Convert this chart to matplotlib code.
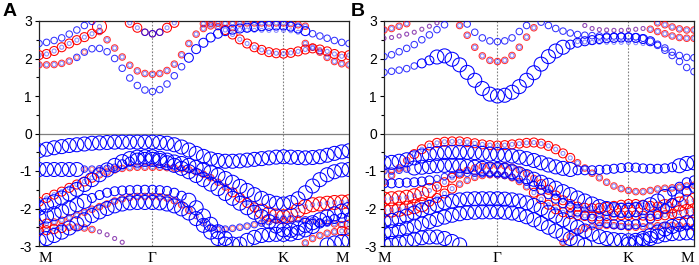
import numpy as np
import matplotlib
matplotlib.use("Agg")
import matplotlib.pyplot as plt

nan = np.nan

# k-path M - Gamma - K - M (segment lengths and points per segment)
seg_len = [1.0, 1.1547, 0.5774]
seg_pts = [15, 18, 9]
k_labels = ["M", "\u0393", "K", "M"]
y_ticks = [-3, -2, -1, 0, 1, 2, 3]

# ---------------- panel A: energies (eV) at the 43 k-points, weight levels 0-4 ----------------
a_c1 = [1.83, 1.83, 1.84, 1.87, 1.93, 2.03, 2.17, 2.26, 2.27, 2.18, 2.00, 1.74, 1.48, 1.28, 1.16, 1.12,
        1.17, 1.32, 1.54, 1.78, 2.02, 2.25, 2.42, 2.56, 2.66, 2.73, 2.77, 2.80, 2.82, 2.84, 2.86, 2.87, 2.88, 2.88,
        2.85, 2.80, 2.73, 2.66, 2.60, 2.54, 2.48, 2.43, 2.40]
a_c1_red = "2222211000000000 000000000000000000 000000000"
a_c1_blue = "1111122222222222 222233333333333333 333222222"

a_c2 = [2.09, 2.12, 2.20, 2.30, 2.40, 2.49, 2.57, 2.66, 2.85, nan, nan, nan, nan, nan, nan, nan,
        nan, nan, nan, nan, nan, nan, nan, nan, nan, nan, nan, nan, nan, nan, nan, nan, nan, nan,
        nan, nan, nan, nan, nan, nan, nan, nan, nan]
a_c2_red = "3333333340000000 000000000000000000 000000000"
a_c2_blue = "1111111110000000 000000000000000000 000000000"

a_c3 = [2.40, 2.43, 2.48, 2.55, 2.65, 2.76, 2.88, 2.99, nan, nan, nan, nan, nan, nan, nan, nan,
        nan, nan, nan, nan, nan, nan, nan, nan, nan, nan, nan, nan, nan, nan, nan, nan, nan, nan,
        nan, nan, nan, nan, nan, nan, nan, nan, nan]
a_c3_red = "0000000000000000 000000000000000000 000000000"
a_c3_blue = "2222222200000000 000000000000000000 000000000"

a_c4 = [nan, nan, nan, nan, nan, nan, nan, nan, nan, nan, nan, nan, 2.95, 2.82, 2.70, 2.66,
        2.70, 2.82, 2.95, nan, nan, nan, nan, nan, nan, nan, nan, nan, nan, nan, nan, nan, nan, nan,
        nan, nan, nan, nan, nan, nan, nan, nan, nan]
a_c4_red = "0000000000003322 233000000000000000 000000000"
a_c4_blue = "0000000000001122 211000000000000000 000000000"

a_c5 = [nan, nan, nan, nan, nan, nan, nan, nan, nan, nan, nan, nan, nan, nan, nan, nan,
        nan, nan, nan, nan, nan, nan, nan, nan, nan, nan, nan, nan, nan, nan, nan, nan, nan, nan,
        nan, nan, 2.40, 2.30, 2.17, 2.03, 1.92, 1.86, 1.83]
a_c5_red = "0000000000000000 000000000000000000 002222222"
a_c5_blue = "0000000000000000 000000000000000000 001111111"

a_c6 = [nan, nan, nan, nan, nan, nan, nan, nan, nan, nan, nan, nan, nan, nan, nan, nan,
        nan, nan, nan, nan, nan, nan, 2.93, 2.94, 2.94, 2.94, 2.94, 2.94, 2.95, 2.95, 2.95, 2.95, 2.95, 2.95,
        2.93, 2.90, 2.86, nan, nan, nan, nan, nan, nan]
a_c6_red = "0000000000000000 000000222222222222 222000000"
a_c6_blue = "0000000000000000 000000111111111111 111000000"

a_c7 = [nan, nan, nan, nan, nan, nan, nan, nan, nan, nan, nan, nan, nan, nan, nan, nan,
        nan, nan, nan, nan, nan, nan, nan, nan, nan, nan, 2.78, 2.77, 2.76, 2.75, 2.75, 2.75, 2.75, 2.75,
        2.74, 2.70, nan, nan, nan, nan, nan, nan, nan]
a_c7_red = "0000000000000000 000000000000000000 000000000"
a_c7_blue = "0000000000000000 000000000011111111 110000000"

a_c9 = [nan, nan, nan, nan, nan, nan, nan, nan, 2.72, 2.50, 2.28, 2.04, 1.82, 1.67, 1.60, 1.58,
        1.60, 1.68, 1.85, 2.10, 2.40, 2.65, 2.80, 2.87, 2.85, 2.76, 2.64, 2.51, 2.40, 2.30, 2.23, 2.17, 2.14, 2.13,
        2.15, 2.19, 2.24, 2.27, 2.24, 2.19, 2.12, 2.06, 2.09]
a_c9_red = "0000000022222222 222222222333333333 333333333"
a_c9_blue = "0000000011111111 111111111111111111 111111111"

a_v1 = [-0.46, -0.42, -0.38, -0.35, -0.32, -0.30, -0.28, -0.26, -0.25, -0.24, -0.23, -0.23, -0.23, -0.23, -0.23, -0.23,
        -0.24, -0.26, -0.30, -0.36, -0.44, -0.53, -0.61, -0.68, -0.72, -0.74, -0.74, -0.73, -0.71, -0.69, -0.67, -0.65, -0.63, -0.62,
        -0.63, -0.64, -0.65, -0.64, -0.62, -0.58, -0.53, -0.49, -0.46]
a_v1_red = "0000000000000000 000000000000000000 000000000"
a_v1_blue = "4444444444444444 444444444444444444 444444444"

a_v2 = [-0.96, -0.96, -0.96, -0.96, -0.96, -0.96, -0.95, -0.95, -0.94, -0.93, -0.90, -0.82, -0.75, -0.71, -0.69, -0.69,
        -0.72, -0.78, -0.85, -0.93, -1.02, -1.12, -1.23, -1.35, -1.47, -1.60, -1.73, -1.86, -1.98, -2.10, -2.22, -2.35, -2.47, -2.57,
        -2.58, -2.52, -2.45, -2.38, -2.30, -2.22, -2.14, -2.07, -2.02]
a_v2_red = "0000001111100000 000000000000000000 000000000"
a_v2_blue = "4444442222233444 444444444444444444 444444444"

a_vd1 = [-1.99, -1.91, -1.82, -1.72, -1.61, -1.49, -1.36, -1.23, -1.10, -0.97, -0.85, -0.75, -0.67, -0.63, -0.62, -0.62,
         -0.66, -0.71, -0.76, -0.80, -0.85, -0.90, -0.96, -1.03, -1.11, -1.20, -1.30, -1.41, -1.52, -1.63, -1.73, -1.81, -1.86, -1.88,
         -1.84, -1.74, -1.58, -1.40, -1.23, -1.10, -1.02, -0.97, -0.96]
a_vd1_red = "0000000000000000 000000000000000000 000000000"
a_vd1_blue = "4444444444444444 444444444444444444 444444444"

a_vr = [-1.82, -1.72, -1.63, -1.55, -1.45, -1.36, -1.28, -1.18, -1.10, -1.03, -0.97, -0.93, -0.91, -0.90, -0.90, -0.90,
        -0.90, -0.91, -0.92, -0.94, -0.97, -1.02, -1.09, -1.18, -1.30, -1.43, -1.57, -1.71, -1.85, -1.97, -2.07, -2.15, -2.20, -2.22,
        -2.17, -2.05, -1.95, -1.90, -1.88, -1.86, -1.84, -1.83, -1.82]
a_vr_red = "3333333322222222 222222222233334444 444444444"
a_vr_blue = "1111111111111111 111111111111111111 111111111"

a_v3 = [-2.24, -2.20, -2.14, -2.07, -1.99, -1.90, -1.81, -1.72, -1.64, -1.58, -1.54, -1.52, -1.51, -1.50, -1.50, -1.50,
        -1.51, -1.53, -1.58, -1.66, -1.78, -1.98, -2.20, -2.42, -2.62, -2.80, -2.95, nan, nan, nan, nan, nan, nan, nan,
        nan, nan, nan, nan, nan, nan, nan, nan, nan]
a_v3_red = "0000000000000000 000000000000000000 000000000"
a_v3_blue = "4444444333333333 333344444440000000 000000000"

a_v7 = [nan, nan, nan, nan, nan, nan, nan, nan, nan, nan, nan, nan, nan, nan, nan, nan,
        nan, nan, nan, nan, nan, nan, nan, nan, nan, nan, nan, -2.95, -2.85, -2.77, -2.72, -2.70, -2.69, -2.69,
        -2.68, -2.64, -2.57, -2.48, -2.40, -2.33, -2.28, -2.25, -2.24]
a_v7_red = "0000000000000000 000000000000000000 000000000"
a_v7_blue = "0000000000000000 000000000004444444 444433333"

a_v5 = [-2.86, -2.80, -2.72, -2.63, -2.52, -2.41, -2.30, -2.19, -2.09, -2.00, -1.93, -1.88, -1.85, -1.84, -1.84, -1.84,
        -1.85, -1.88, -1.93, -2.01, -2.12, -2.27, -2.45, -2.63, -2.80, -2.95, nan, nan, nan, nan, nan, nan, nan, nan,
        nan, nan, nan, nan, nan, -2.97, -2.92, -2.88, -2.86]
a_v5_red = "0000000000000000 000000000000000000 000000000"
a_v5_blue = "4444444444444444 444444444400000000 000004444"

a_v4 = [-2.43, -2.40, -2.36, -2.31, -2.25, -2.18, -2.10, -2.02, -1.95, -1.88, -1.80, -1.74, -1.70, -1.68, -1.68, -1.68,
        -1.69, -1.72, -1.79, -1.90, -2.05, -2.22, -2.38, -2.50, -2.55, -2.55, -2.53, -2.50, -2.47, -2.43, -2.39, -2.35, -2.31, -2.29,
        -2.28, -2.28, -2.30, -2.33, -2.36, -2.39, -2.41, -2.43, -2.43]
a_v4_red = "3322222222222222 222221111111111111 111111223"
a_v4_blue = "1111111111111111 111111222222222222 222222111"

a_v6 = [-2.60, -2.58, -2.55, -2.52, -2.50, -2.50, -2.52, -2.56, -2.62, -2.70, -2.80, -2.90, -2.98, nan, nan, nan,
        nan, nan, nan, nan, nan, nan, nan, nan, nan, nan, nan, nan, nan, nan, nan, nan, nan, nan,
        nan, nan, -2.92, -2.80, -2.72, -2.66, -2.62, -2.60, -2.60]
a_v6_red = "3333222211110000 000000000000000000 002222233"
a_v6_blue = "1111111111110000 000000000000000000 001111111"

# ---------------- panel B ----------------
b_c1 = [1.63, 1.66, 1.69, 1.73, 1.80, 1.87, 1.95, 2.04, 2.07, 1.98, 1.83, 1.63, 1.42, 1.20, 1.05, 1.00,
        1.02, 1.10, 1.25, 1.42, 1.62, 1.85, 2.05, 2.20, 2.30, 2.37, 2.42, 2.46, 2.49, 2.52, 2.54, 2.55, 2.56, 2.56,
        2.55, 2.52, 2.46, 2.38, 2.28, 2.17, 2.08, 2.03, 2.02]
b_c1_red = "0000000000000000 000000000000000000 000000000"
b_c1_blue = "2222233444444444 444444444333333333 333222222"

b_c2 = [2.05, 2.10, 2.18, 2.27, 2.37, 2.50, 2.63, 2.77, 2.90, nan, nan, 2.92, 2.70, 2.55, 2.47, 2.45,
        2.47, 2.55, 2.72, 2.88, nan, nan, nan, nan, nan, nan, nan, nan, nan, nan, nan, nan, nan, nan,
        nan, nan, nan, nan, nan, nan, nan, nan, nan]
b_c2_red = "0000000000000000 000000000000000000 000000000"
b_c2_blue = "2222222220022222 222200000000000000 000000000"

b_c5 = [nan, nan, nan, nan, nan, nan, nan, nan, nan, nan, nan, nan, nan, nan, nan, nan,
        nan, nan, nan, nan, nan, 2.97, 2.88, 2.80, 2.73, 2.68, 2.64, 2.62, 2.61, 2.60, 2.60, 2.60, 2.60, 2.60,
        2.58, 2.54, 2.46, 2.35, 2.22, 2.08, 1.92, 1.76, 1.65]
b_c5_red = "0000000000000000 000000000000000000 000000000"
b_c5_blue = "0000000000000000 000002222222222222 222222222"

b_c3 = [nan, nan, nan, nan, nan, nan, nan, nan, nan, nan, nan, nan, nan, nan, nan, nan,
        nan, nan, nan, nan, nan, nan, nan, nan, nan, nan, 2.45, 2.44, 2.43, 2.43, 2.43, 2.43, 2.43, 2.43,
        2.42, 2.40, nan, nan, nan, nan, nan, nan, nan]
b_c3_red = "0000000000000000 000000000000000000 000000000"
b_c3_blue = "0000000000000000 000000000011111111 110000000"

b_r1 = [nan, nan, nan, nan, nan, nan, nan, nan, nan, nan, 2.88, 2.62, 2.30, 2.07, 1.95, 1.92,
        1.95, 2.08, 2.30, 2.57, 2.82, nan, nan, nan, nan, nan, nan, nan, nan, nan, nan, nan, nan, nan,
        nan, nan, nan, nan, nan, nan, nan, nan, nan]
b_r1_red = "0000000000222222 222220000000000000 000000000"
b_r1_blue = "0000000000111111 111110000000000000 000000000"

b_r2 = [2.76, 2.80, 2.86, 2.93, nan, nan, nan, nan, nan, nan, nan, nan, nan, nan, nan, nan,
        nan, nan, nan, nan, nan, nan, nan, nan, nan, nan, nan, nan, nan, nan, nan, nan, nan, nan,
        nan, nan, nan, 2.95, 2.90, 2.84, 2.79, 2.76, 2.76]
b_r2_red = "2222000000000000 000000000000000000 000222222"
b_r2_blue = "1111000000000000 000000000000000000 000111111"

b_r3 = [2.54, 2.56, 2.60, 2.65, 2.70, 2.78, 2.86, 2.95, nan, nan, nan, nan, nan, nan, nan, nan,
        nan, nan, nan, nan, nan, nan, nan, nan, nan, nan, nan, 2.88, 2.80, 2.77, 2.76, 2.75, 2.75, 2.76,
        2.78, 2.80, 2.78, 2.72, 2.66, 2.60, 2.56, 2.54, 2.54]
b_r3_red = "1111111100000000 000000000001111111 112222222"
b_r3_blue = "1111111100000000 000000000001111111 111111111"

b_vr1 = [-1.30, -1.12, -0.92, -0.72, -0.55, -0.42, -0.32, -0.25, -0.22, -0.21, -0.21, -0.23, -0.26, -0.29, -0.31, -0.32,
         -0.31, -0.29, -0.27, -0.25, -0.24, -0.27, -0.33, -0.42, -0.53, -0.65, -0.78, -0.92, -1.06, -1.18, -1.30, -1.40, -1.47, -1.52,
         -1.55, -1.55, -1.52, -1.48, -1.46, -1.45, -1.43, -1.40, -1.38]
b_vr1_red = "2222333333333333 333333333322222222 222222222"
b_vr1_blue = "1111111111111111 111111111111111111 111111111"

b_v1 = [-0.78, -0.77, -0.74, -0.70, -0.65, -0.60, -0.56, -0.53, -0.51, -0.50, -0.50, -0.50, -0.51, -0.53, -0.55, -0.56,
        -0.58, -0.60, -0.63, -0.67, -0.72, -0.78, -0.84, -0.89, -0.93, -0.96, -0.98, -0.98, -0.98, -0.97, -0.96, -0.94, -0.92, -0.90,
        -0.91, -0.93, -0.94, -0.94, -0.93, -0.90, -0.86, -0.80, -0.78]
b_v1_red = "0000000000000000 000000000000000000 000000000"
b_v1_blue = "4444444444444444 444444444433333333 333333444"

b_v2 = [-1.00, -1.00, -0.98, -0.95, -0.92, -0.90, -0.88, -0.86, -0.85, -0.85, -0.86, -0.88, -0.90, -0.93, -0.95, -0.96,
        -0.98, -1.02, -1.08, -1.15, -1.22, -1.30, -1.38, -1.46, -1.55, -1.63, -1.72, -1.80, -1.88, -1.95, -2.00, -2.03, -2.05, -2.05,
        -2.03, -1.98, -1.90, -1.80, -1.68, -1.55, -1.42, -1.30, -1.25]
b_v2_red = "1111000000000000 000000000000000000 000000000"
b_v2_blue = "2222444444444444 444444444444444444 444443333"

b_v3 = [-1.33, -1.33, -1.32, -1.31, -1.30, -1.28, -1.25, -1.20, -1.15, -1.10, -1.07, -1.06, -1.06, -1.07, -1.08, -1.10,
        -1.12, -1.16, -1.22, -1.30, -1.40, -1.50, -1.62, -1.74, -1.86, -1.97, -2.08, -2.18, -2.27, -2.34, -2.39, -2.42, -2.44, -2.44,
        -2.42, -2.36, -2.27, -2.15, -2.00, -1.85, -1.70, -1.55, -1.45]
b_v3_red = "0000000000000000 000000000000000000 000000000"
b_v3_blue = "3333333222222222 222233333333333333 333333333"

b_vr2 = [-1.75, -1.74, -1.72, -1.70, -1.66, -1.60, -1.52, -1.42, -1.30, -1.18, -1.07, -0.98, -0.92, -0.88, -0.86, -0.85,
         -0.86, -0.90, -0.97, -1.07, -1.20, -1.35, -1.50, -1.65, -1.78, -1.88, -1.95, -1.98, -1.99, -1.98, -1.96, -1.93, -1.90, -1.88,
         -1.88, -1.90, -1.93, -1.95, -1.95, -1.93, -1.88, -1.82, -1.78]
b_vr2_red = "4444444333322222 222223333333333333 333344444"
b_vr2_blue = "1111111111111111 111111111111111111 111111111"

b_vr3 = [-2.05, -2.04, -2.02, -1.99, -1.95, -1.90, -1.82, -1.72, -1.60, -1.47, -1.35, -1.25, -1.17, -1.12, -1.10, -1.10,
         -1.12, -1.18, -1.28, -1.42, -1.58, -1.75, -1.90, -2.02, -2.10, -2.15, -2.18, -2.20, -2.21, -2.21, -2.20, -2.19, -2.18, -2.18,
         -2.18, -2.19, -2.20, -2.20, -2.18, -2.15, -2.11, -2.08, -2.06]
b_vr3_red = "4444443333222222 222233333333333333 333333444"
b_vr3_blue = "1111111111111111 111111111111111111 111111111"

b_vr4 = [nan, nan, nan, nan, nan, nan, nan, nan, nan, nan, nan, nan, nan, nan, nan, nan,
         nan, nan, nan, nan, nan, nan, nan, nan, -2.90, -2.75, -2.62, -2.53, -2.48, -2.46, -2.45, -2.46, -2.48, -2.50,
         -2.50, -2.49, -2.47, -2.46, -2.45, -2.45, -2.46, -2.48, -2.50]
b_vr4_red = "0000000000000000 000000002222222222 222222222"
b_vr4_blue = "0000000000000000 000000001111111111 111111111"

b_v4 = [-2.35, -2.32, -2.27, -2.20, -2.12, -2.04, -1.97, -1.90, -1.84, -1.80, -1.77, -1.75, -1.74, -1.74, -1.74, -1.74,
        -1.75, -1.77, -1.80, -1.85, -1.92, -2.00, -2.10, -2.20, -2.30, -2.40, -2.50, -2.60, -2.68, -2.75, -2.80, -2.83, -2.85, -2.86,
        -2.85, -2.80, -2.72, -2.63, -2.55, -2.48, -2.42, -2.38, -2.36]
b_v4_red = "0000000000000000 000000000000000000 000000000"
b_v4_blue = "4444444444444444 444444444444444444 444444444"

b_v5 = [-2.65, -2.62, -2.58, -2.53, -2.47, -2.41, -2.35, -2.29, -2.23, -2.18, -2.14, -2.11, -2.10, -2.09, -2.09, -2.09,
        -2.10, -2.12, -2.16, -2.22, -2.30, -2.40, -2.50, -2.60, -2.70, -2.80, -2.90, -2.98, nan, nan, nan, nan, nan, -2.95,
        -2.92, -2.86, -2.80, -2.74, -2.70, -2.67, -2.66, -2.65, -2.65]
b_v5_red = "0000000000000000 000000000000000000 000000000"
b_v5_blue = "4444444444444444 444444444444000004 444444444"

b_v6 = [-2.95, -2.93, -2.90, -2.86, -2.82, -2.78, -2.76, -2.76, -2.80, -2.88, -2.97, nan, nan, nan, nan, nan,
        nan, nan, nan, nan, nan, nan, nan, nan, nan, nan, nan, nan, nan, nan, nan, nan, nan, nan,
        nan, nan, nan, nan, nan, nan, nan, nan, nan]
b_v6_red = "0000000000000000 000000000000000000 000000000"
b_v6_blue = "4444444444400000 000000000000000000 000000000"

bands_a = [
    (a_c1, a_c1_red, a_c1_blue), (a_c2, a_c2_red, a_c2_blue), (a_c3, a_c3_red, a_c3_blue),
    (a_c4, a_c4_red, a_c4_blue), (a_c5, a_c5_red, a_c5_blue), (a_c6, a_c6_red, a_c6_blue),
    (a_c7, a_c7_red, a_c7_blue), (a_c9, a_c9_red, a_c9_blue),
    (a_v1, a_v1_red, a_v1_blue), (a_v2, a_v2_red, a_v2_blue), (a_vd1, a_vd1_red, a_vd1_blue),
    (a_vr, a_vr_red, a_vr_blue), (a_v3, a_v3_red, a_v3_blue), (a_v7, a_v7_red, a_v7_blue),
    (a_v5, a_v5_red, a_v5_blue), (a_v4, a_v4_red, a_v4_blue), (a_v6, a_v6_red, a_v6_blue),
]
bands_b = [
    (b_c1, b_c1_red, b_c1_blue), (b_c2, b_c2_red, b_c2_blue), (b_c5, b_c5_red, b_c5_blue),
    (b_c3, b_c3_red, b_c3_blue), (b_r1, b_r1_red, b_r1_blue), (b_r2, b_r2_red, b_r2_blue),
    (b_r3, b_r3_red, b_r3_blue),
    (b_vr1, b_vr1_red, b_vr1_blue), (b_v1, b_v1_red, b_v1_blue), (b_v2, b_v2_red, b_v2_blue),
    (b_v3, b_v3_red, b_v3_blue), (b_vr2, b_vr2_red, b_vr2_blue), (b_vr3, b_vr3_red, b_vr3_blue),
    (b_vr4, b_vr4_red, b_vr4_blue), (b_v4, b_v4_red, b_v4_blue), (b_v5, b_v5_red, b_v5_blue),
    (b_v6, b_v6_red, b_v6_blue),
]

# k coordinates along the path
nodes = np.concatenate([[0], np.cumsum(seg_len)])
k = [np.linspace(nodes[0], nodes[1], seg_pts[0] + 1)]
for j in (1, 2):
    k.append(np.linspace(nodes[j], nodes[j + 1], seg_pts[j] + 1)[1:])
k = np.concatenate(k)

# marker diameter (px) and alpha for each weight level
diam = {1: 4.0, 2: 6.5, 3: 9.0, 4: 14.0}
alpha = {1: 0.45, 2: 0.8, 3: 1.0, 4: 1.0}
px = 72.0 / 100


def levels(s):
    s = s.replace(" ", "")
    assert len(s) == len(k), len(s)
    return np.array([int(c) for c in s])


def draw_panel(ax, bands, end_align):
    for color, idx in (("#ff0000", 1), ("#0000ff", 2)):
        for band in bands:
            e = np.array(band[0], float)
            assert len(e) == len(k), len(e)
            lev = levels(band[idx])
            for L in (1, 2, 3, 4):
                m = (lev == L) & np.isfinite(e)
                if m.any():
                    ax.scatter(k[m], e[m], s=(diam[L] * px) ** 2, facecolors="none",
                               edgecolors=color, linewidths=0.75, alpha=alpha[L], zorder=3)
    ax.axhline(0, color="#7f7f7f", lw=0.9, zorder=1)
    for x in nodes[1:3]:
        ax.axvline(x, color="#808080", lw=0.8, ls=(0, (1.5, 1.5)), zorder=1)
    ax.set_xlim(nodes[0], nodes[-1])
    ax.set_ylim(-3, 3)
    ax.set_yticks(y_ticks)
    ax.set_yticks(np.arange(-2.5, 3, 1.0), minor=True)
    ax.set_yticklabels([str(t) for t in y_ticks], fontfamily="Liberation Sans", fontsize=10)
    ax.tick_params(axis="y", which="major", direction="out", length=3, width=0.8, pad=2)
    ax.tick_params(axis="y", which="minor", direction="out", length=2, width=0.8)
    ax.set_xticks(nodes)
    ax.set_xticklabels(k_labels, fontfamily="Liberation Serif", fontsize=11)
    ax.tick_params(axis="x", length=0, pad=4)
    labs = ax.get_xticklabels()
    labs[0].set_horizontalalignment(end_align[0])
    labs[-1].set_horizontalalignment(end_align[1])
    for sp in ax.spines.values():
        sp.set_linewidth(0.9)
        sp.set_color("#222222")


fig = plt.figure(figsize=(6.99, 2.65), dpi=100)
ax_a = fig.add_axes([39 / 699, 19 / 265, 310 / 699, 225 / 265])
ax_b = fig.add_axes([384 / 699, 19 / 265, 310 / 699, 225 / 265])
draw_panel(ax_a, bands_a, ("left", "right"))
draw_panel(ax_b, bands_b, ("center", "right"))

fig.text(3 / 699, 1 - 3 / 265, "A", fontfamily="Liberation Sans", fontweight="bold",
         fontsize=14, va="top", ha="left")
fig.text(351 / 699, 1 - 3 / 265, "B", fontfamily="Liberation Sans", fontweight="bold",
         fontsize=14, va="top", ha="left")

fig.savefig("out.png", dpi=100)
